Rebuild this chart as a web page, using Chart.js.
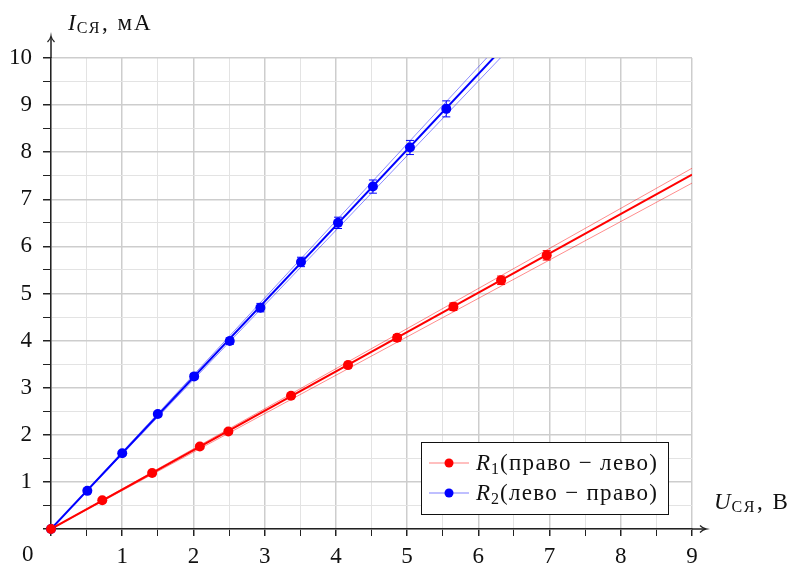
<!DOCTYPE html>
<html>
<head>
<meta charset="utf-8">
<script src="https://cdn.jsdelivr.net/npm/chart.js@4"></script>
<style>
  html, body { margin: 0; padding: 0; background: #fff; }
  #wrap { width: 793px; height: 566px; }
</style>
</head>
<body>
<div id="wrap"><canvas id="chart" width="793" height="566"></canvas></div>
<script>
// ---------------- data ----------------
const r1U = [0, 0.72, 1.42, 2.09, 2.49, 3.37, 4.17, 4.86, 5.65, 6.32, 6.96];
const r1I = [0, 0.61, 1.19, 1.75, 2.07, 2.83, 3.48, 4.06, 4.72, 5.28, 5.81];
const r1Err = [0, 0.02, 0.03, 0.04, 0.04, 0.05, 0.06, 0.07, 0.08, 0.09, 0.1];

const r2U = [0, 0.51, 1.0, 1.5, 2.01, 2.51, 2.94, 3.51, 4.03, 4.52, 5.04, 5.55];
const r2I = [0, 0.81, 1.61, 2.44, 3.24, 3.99, 4.70, 5.67, 6.50, 7.27, 8.10, 8.92];
const r2Err = [0, 0.03, 0.04, 0.05, 0.06, 0.07, 0.09, 0.1, 0.12, 0.14, 0.15, 0.17];

// fitted slopes (mA per V): centre, upper, lower
const r1Slopes = [0.836, 0.851, 0.816];
const r2Slopes = [1.61, 1.635, 1.585];

const xTicksShown = [1, 2, 3, 4, 5, 6, 7, 8, 9];
const yTicksShown = [1, 2, 3, 4, 5, 6, 7, 8, 9, 10];

const legendLabels = [
  { sym: 'R', sub: '1', rest: '(право − лево)' },
  { sym: 'R', sub: '2', rest: '(лево − право)' }
];

const RED = '#ff0000', BLUE = '#0000ff';
const SERIF = '"Liberation Serif", "DejaVu Serif", serif';

// ---------------- helpers ----------------
const pts = (xs, ys) => xs.map((x, i) => ({ x: x, y: ys[i] }));
const fitLine = (k) => [{ x: 0, y: 0 }, { x: 9, y: 9 * k }];

function lineSet(k, color, width) {
  return { type: 'line', data: fitLine(k), borderColor: color, borderWidth: width,
    pointRadius: 0, fill: false, showLine: true, order: 2 };
}

function drawRich(ctx, x, y, parts) {
  parts.forEach(p => {
    ctx.font = p.font;
    ctx.letterSpacing = (p.ls || 0) + 'px';
    ctx.fillText(p.t, x, y + (p.dy || 0));
    x += ctx.measureText(p.t).width + (p.gap || 0);
  });
  ctx.letterSpacing = '0px';
  return x;
}

// ---------------- plugins ----------------
const errorBars = {
  id: 'errorBars',
  afterDatasetsDraw(chart) {
    const ctx = chart.ctx, ys = chart.scales.y;
    chart.data.datasets.forEach((ds, di) => {
      if (!ds.errs) return;
      const meta = chart.getDatasetMeta(di);
      ctx.save();
      ctx.strokeStyle = ds.borderColor;
      ctx.lineWidth = 1;
      meta.data.forEach((el, i) => {
        const e = ds.errs[i];
        if (!e) return;
        const v = ds.data[i].y;
        const top = ys.getPixelForValue(v + e), bot = ys.getPixelForValue(v - e);
        ctx.beginPath();
        ctx.moveTo(el.x, top); ctx.lineTo(el.x, bot);
        ctx.moveTo(el.x - 4, top); ctx.lineTo(el.x + 4, top);
        ctx.moveTo(el.x - 4, bot); ctx.lineTo(el.x + 4, bot);
        ctx.stroke();
      });
      ctx.restore();
    });
  }
};

const decorations = {
  id: 'decorations',
  afterDraw(chart) {
    const ctx = chart.ctx, a = chart.chartArea;
    ctx.save();
    // axis arrows
    ctx.strokeStyle = '#222';
    ctx.lineWidth = 1.5;
    ctx.beginPath();
    ctx.moveTo(a.left, a.top); ctx.lineTo(a.left, a.top - 20);
    ctx.moveTo(a.right, a.bottom); ctx.lineTo(a.right + 12, a.bottom);
    ctx.stroke();
    ctx.lineWidth = 1.3;
    ctx.beginPath();
    ctx.moveTo(a.left - 3.5, a.top - 16); ctx.quadraticCurveTo(a.left - 0.5, a.top - 19, a.left, a.top - 22);
    ctx.quadraticCurveTo(a.left + 0.5, a.top - 19, a.left + 3.5, a.top - 16);
    ctx.moveTo(a.right + 8, a.bottom - 3.5); ctx.quadraticCurveTo(a.right + 11, a.bottom - 0.5, a.right + 14, a.bottom);
    ctx.quadraticCurveTo(a.right + 11, a.bottom + 0.5, a.right + 8, a.bottom + 3.5);
    ctx.stroke();

    ctx.fillStyle = '#111';
    ctx.textBaseline = 'alphabetic';
    ctx.textAlign = 'left';
    // origin label
    ctx.font = '23px ' + SERIF;
    ctx.fillText('0', a.left - 29, a.bottom + 32);
    // axis titles
    drawRich(ctx, a.left + 17, 30, [
      { t: 'I', font: 'italic 23px ' + SERIF, gap: 1 },
      { t: 'СЯ', font: '16px ' + SERIF, dy: 3, gap: 1, ls: 1.5 },
      { t: ', мА', font: '23px ' + SERIF, ls: 2 }
    ]);
    drawRich(ctx, a.right + 22, a.bottom - 20, [
      { t: 'U', font: 'italic 23px ' + SERIF, gap: 1 },
      { t: 'СЯ', font: '16px ' + SERIF, dy: 3, gap: 1, ls: 1.5 },
      { t: ', В', font: '23px ' + SERIF, ls: 2 }
    ]);

    // legend
    const lx = 421, ly = 442, lw = 247, lh = 72;
    ctx.fillStyle = '#fff';
    ctx.fillRect(lx, ly, lw, lh);
    ctx.strokeStyle = '#111';
    ctx.lineWidth = 1;
    ctx.strokeRect(lx + 0.5, ly + 0.5, lw, lh);
    const cols = [RED, BLUE], light = ['rgba(255,0,0,0.5)', 'rgba(0,0,255,0.5)'];
    legendLabels.forEach((lab, i) => {
      const cy = ly + 21 + i * 30;
      ctx.strokeStyle = light[i];
      ctx.lineWidth = 1;
      ctx.beginPath(); ctx.moveTo(lx + 8, cy); ctx.lineTo(lx + 48, cy); ctx.stroke();
      ctx.fillStyle = cols[i];
      ctx.beginPath(); ctx.arc(lx + 28, cy, 4.5, 0, Math.PI * 2); ctx.fill();
      ctx.fillStyle = '#111';
      drawRich(ctx, lx + 55, cy + 7, [
        { t: lab.sym, font: 'italic 23px ' + SERIF, gap: 1 },
        { t: lab.sub, font: '16px ' + SERIF, dy: 4, gap: 1 },
        { t: lab.rest, font: '23px ' + SERIF, ls: 1.3 }
      ]);
    });
    ctx.restore();
  }
};

// ---------------- chart ----------------
const gridColor = (c) => Number.isInteger(c.tick.value) ? '#cdcdcd' : '#e3e3e3';
const gridWidth = (c) => Number.isInteger(c.tick.value) ? 1.5 : 1;

new Chart(document.getElementById('chart').getContext('2d'), {
  type: 'scatter',
  data: {
    datasets: [
      lineSet(r1Slopes[1], 'rgba(255,0,0,0.45)', 1),
      lineSet(r1Slopes[2], 'rgba(255,0,0,0.45)', 1),
      lineSet(r1Slopes[0], RED, 2),
      lineSet(r2Slopes[1], 'rgba(0,0,255,0.45)', 1),
      lineSet(r2Slopes[2], 'rgba(0,0,255,0.45)', 1),
      lineSet(r2Slopes[0], BLUE, 2),
      { data: pts(r2U, r2I), errs: r2Err, backgroundColor: BLUE, borderColor: BLUE,
        pointRadius: 5, pointBorderWidth: 0, clip: false, order: 1 },
      { data: pts(r1U, r1I), errs: r1Err, backgroundColor: RED, borderColor: RED,
        pointRadius: 5, pointBorderWidth: 0, clip: false, order: 0 }
    ]
  },
  options: {
    responsive: false,
    animation: false,
    layout: { padding: { top: 58, right: 101, left: 0, bottom: 0 } },
    plugins: { legend: { display: false }, tooltip: { enabled: false } },
    scales: {
      x: {
        type: 'linear', min: 0, max: 9,
        afterFit: (s) => { s.height = 37; },
        border: { color: '#222', width: 1.5 },
        grid: { color: gridColor, lineWidth: gridWidth, tickColor: '#222', tickLength: 7 },
        ticks: {
          stepSize: 0.5, autoSkip: false, maxRotation: 0, padding: 7, color: '#111',
          font: { family: SERIF, size: 23 },
          callback: (v) => xTicksShown.includes(v) ? String(v) : ''
        }
      },
      y: {
        type: 'linear', min: 0, max: 10,
        afterFit: (s) => { s.width = 51; },
        border: { color: '#222', width: 1.5 },
        grid: { color: gridColor, lineWidth: gridWidth, tickColor: '#222', tickLength: 8 },
        ticks: {
          stepSize: 0.5, autoSkip: false, padding: 11, color: '#111',
          font: { family: SERIF, size: 23 },
          callback: (v) => yTicksShown.includes(v) ? String(v) : ''
        }
      }
    }
  },
  plugins: [errorBars, decorations]
});
</script>
</body>
</html>
